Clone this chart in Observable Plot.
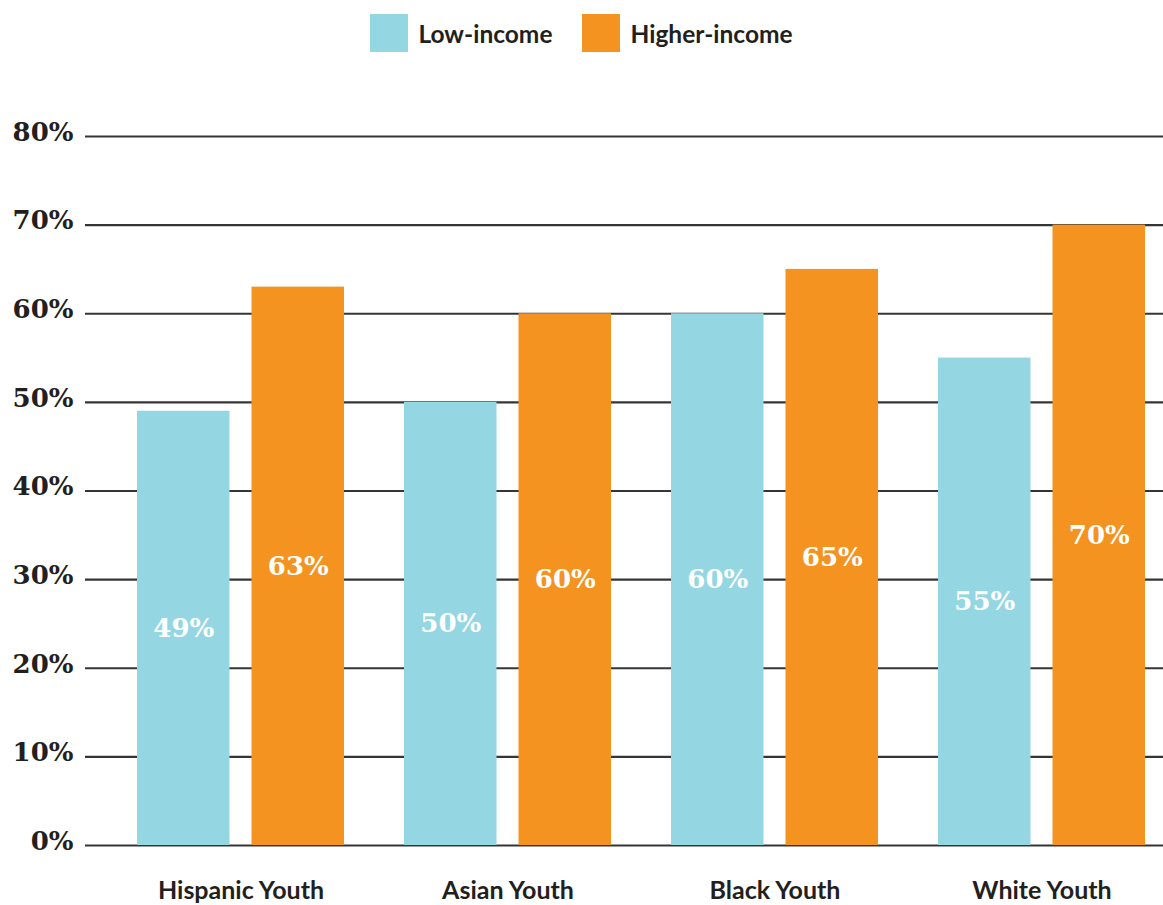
<!DOCTYPE html>
<html>
<head>
<meta charset="utf-8">
<script src="https://cdn.jsdelivr.net/npm/d3@7"></script>
<script src="https://cdn.jsdelivr.net/npm/@observablehq/plot@0.6"></script>
<style>
  html, body { margin: 0; padding: 0; background: #fff; }
  #legend { height: 70px; display: flex; justify-content: center; align-items: flex-start; font-family: Lato, "Open Sans", sans-serif; font-size: 24.5px; font-weight: 700; color: #231f20; }
  .item { display: flex; align-items: center; margin-top: 14px; }
  .sw { width: 38px; height: 38px; margin-right: 10px; }
  #chart svg { display: block; }
</style>
</head>
<body>
<div id="legend"></div>
<div id="chart"></div>
<script>
const groups = ["Hispanic Youth", "Asian Youth", "Black Youth", "White Youth"];
const series = ["Low-income", "Higher-income"];
const lowIncome = [49, 50, 60, 55];
const higherIncome = [63, 60, 65, 70];
const yTicks = [0, 10, 20, 30, 40, 50, 60, 70, 80];
const colors = ["#94d7e3", "#f49320"];

const data = [];
groups.forEach((g, i) => {
  data.push({group: g, series: series[0], value: lowIncome[i]});
  data.push({group: g, series: series[1], value: higherIncome[i]});
});

// legend
const legend = document.getElementById("legend");
series.forEach((s, i) => {
  const it = document.createElement("div");
  it.className = "item";
  it.style.marginRight = i === 0 ? "30px" : "0";
  it.innerHTML = `<div class="sw" style="background:${colors[i]}"></div><span>${s}</span>`;
  legend.appendChild(it);
});

const serif = "'DejaVu Serif', serif";
const barSpan = 207, barW = 92.5;

const plot = Plot.plot({
  width: 1163,
  height: 835,
  marginLeft: 85,
  marginRight: 0,
  marginTop: 66,
  marginBottom: 60,
  style: { fontFamily: "Lato, sans-serif", background: "#fff" },
  x: { domain: groups, paddingInner: 0.2247, paddingOuter: 0.131, align: 0.743, label: null },
  y: { domain: [0, 80], label: null },
  marks: [
    Plot.ruleY(yTicks, { stroke: "#1f1f1f", strokeWidth: 2.2, strokeOpacity: 0.9 }),
    Plot.barY(data.filter(d => d.series === series[0]), { x: "group", y: "value", fill: colors[0], insetRight: barSpan - barW }),
    Plot.barY(data.filter(d => d.series === series[1]), { x: "group", y: "value", fill: colors[1], insetLeft: barSpan - barW }),
    Plot.text(data.filter(d => d.series === series[0]), { x: "group", y: d => d.value / 2, text: d => d.value + "%", fill: "#fff", fontSize: 26, fontWeight: "bold", fontFamily: serif, dx: -(barSpan - barW) / 2 }),
    Plot.text(data.filter(d => d.series === series[1]), { x: "group", y: d => d.value / 2, text: d => d.value + "%", fill: "#fff", fontSize: 26, fontWeight: "bold", fontFamily: serif, dx: (barSpan - barW) / 2 }),
    Plot.axisY({ ticks: yTicks, tickSize: 0, tickPadding: 12, tickFormat: d => d + "%", fontSize: 26, fontWeight: "bold", fontFamily: serif, fill: "#231f20", dy: -4 }),
    Plot.axisX({ tickSize: 0, tickPadding: 36, fontSize: 25, fontWeight: "bold", fill: "#231f20" })
  ]
});
document.getElementById("chart").appendChild(plot);
</script>
</body>
</html>
